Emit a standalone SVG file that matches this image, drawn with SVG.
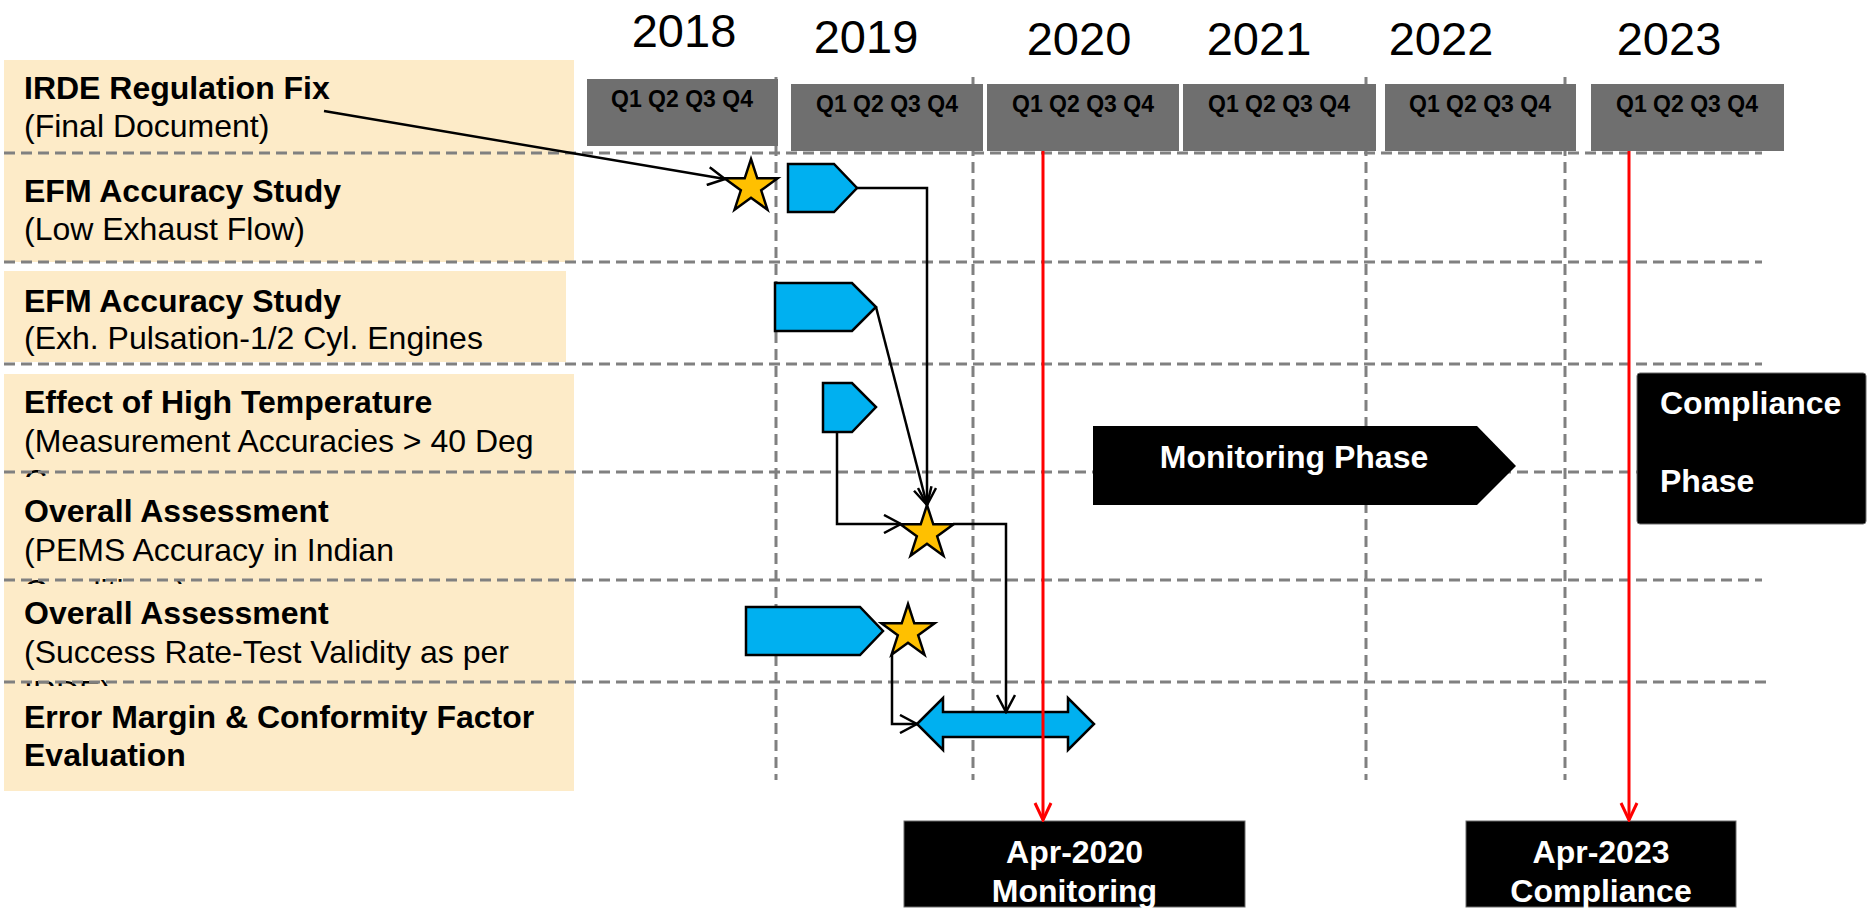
<svg xmlns="http://www.w3.org/2000/svg" width="1874" height="916" viewBox="0 0 1874 916">
<style>
text{font-family:"Liberation Sans",Arial,sans-serif;}
.lbl{fill:#fdebc8;}
.b{font-weight:bold;font-size:32px;fill:#000;}
.r{font-size:32px;fill:#000;}
.yr{font-size:47px;fill:#000;text-anchor:middle;}
.qb{fill:#6f6f6f;}
.qt{font-weight:bold;font-size:23px;fill:#000;text-anchor:middle;}
.grid{stroke:#808080;stroke-width:3;stroke-dasharray:11 6;fill:none;}
.task{fill:#00b0f0;stroke:#000;stroke-width:2.5;stroke-linejoin:miter;}
.ms{fill:#ffc000;stroke:#000;stroke-width:2.5;}
.conn{stroke:#000;stroke-width:2.5;fill:none;marker-end:url(#ah);}
.red{stroke:#ff0000;stroke-width:3;fill:none;marker-end:url(#rh);}
.blk{fill:#000;stroke:#6a6a6a;stroke-width:1;}
.wt{font-weight:bold;font-size:32px;fill:#fff;}
</style>
<defs>
<marker id="ah" markerUnits="userSpaceOnUse" viewBox="0 0 20 20" markerWidth="20" markerHeight="20" refX="18" refY="10" orient="auto">
<path d="M1,1 L18,10 L1,19" fill="none" stroke="#000" stroke-width="2.5"/>
</marker>
<marker id="rh" markerUnits="userSpaceOnUse" viewBox="0 0 20 20" markerWidth="20" markerHeight="20" refX="18" refY="10" orient="auto">
<path d="M1,2 L18,10 L1,18" fill="none" stroke="#ff0000" stroke-width="3"/>
</marker>
<path id="star" d="M0,-28 L6.29,-8.66 L26.63,-8.65 L10.18,3.31 L16.46,22.65 L0,10.7 L-16.46,22.65 L-10.18,3.31 L-26.63,-8.65 L-6.29,-8.66 Z"/>
</defs>

<!-- labels -->
<g id="label-irde">
<rect class="lbl" x="4" y="60" width="570" height="202"/>
<text class="b" x="24" y="99">IRDE Regulation Fix</text>
<text class="r" x="24" y="137">(Final Document)</text>
</g>
<g id="label-efm-low">
<text class="b" x="24" y="202">EFM Accuracy Study</text>
<text class="r" x="24" y="240">(Low Exhaust Flow)</text>
</g>
<g id="label-efm-pulsation">
<rect class="lbl" x="4" y="271" width="562" height="91"/>
<text class="b" x="24" y="312">EFM Accuracy Study</text>
<text class="r" x="24" y="349">(Exh. Pulsation-1/2 Cyl. Engines</text>
</g>
<g id="label-high-temp">
<rect class="lbl" x="4" y="374" width="570" height="104"/>
<text class="b" x="24" y="413">Effect of High Temperature</text>
<text class="r" x="24" y="452">(Measurement Accuracies &gt; 40 Deg</text>
<text class="r" x="24" y="492">C</text>
</g>
<g id="label-overall-pems">
<rect class="lbl" x="4" y="477" width="570" height="108"/>
<text class="b" x="24" y="522">Overall Assessment</text>
<text class="r" x="24" y="561">(PEMS Accuracy in Indian</text>
<text class="r" x="24" y="602">Conditions)</text>
</g>
<g id="label-overall-success">
<rect class="lbl" x="4" y="584" width="570" height="104"/>
<text class="b" x="24" y="624">Overall Assessment</text>
<text class="r" x="24" y="663">(Success Rate-Test Validity as per</text>
<text class="r" x="24" y="703">IRDE)</text>
</g>
<g id="label-error-margin">
<rect class="lbl" x="4" y="686" width="570" height="105"/>
<text class="b" x="24" y="728">Error Margin &amp; Conformity Factor</text>
<text class="b" x="24" y="766">Evaluation</text>
</g>

<!-- grid -->
<g id="grid">
<line class="grid" x1="4" y1="153" x2="1762" y2="153"/>
<line class="grid" x1="4" y1="262" x2="1762" y2="262"/>
<line class="grid" x1="4" y1="364" x2="1762" y2="364"/>
<line class="grid" x1="4" y1="472" x2="1762" y2="472"/>
<line class="grid" x1="4" y1="580" x2="1762" y2="580"/>
<line class="grid" x1="4" y1="682" x2="1768" y2="682"/>
<line class="grid" x1="776" y1="77" x2="776" y2="780"/>
<line class="grid" x1="973" y1="77" x2="973" y2="780"/>
<line class="grid" x1="1366" y1="77" x2="1366" y2="780"/>
<line class="grid" x1="1565" y1="77" x2="1565" y2="780"/>
</g>

<!-- timeline header -->
<g id="years">
<text class="yr" x="684" y="47">2018</text>
<text class="yr" x="866" y="53">2019</text>
<text class="yr" x="1079" y="55">2020</text>
<text class="yr" x="1259" y="55">2021</text>
<text class="yr" x="1441" y="55">2022</text>
<text class="yr" x="1669" y="55">2023</text>
</g>
<g id="q-2018"><rect class="qb" x="587" y="79" width="191" height="67"/><text class="qt" x="682" y="107">Q1 Q2 Q3 Q4</text></g>
<g id="q-2019"><rect class="qb" x="791" y="84" width="192" height="67"/><text class="qt" x="887" y="112">Q1 Q2 Q3 Q4</text></g>
<g id="q-2020"><rect class="qb" x="987" y="84" width="192" height="67"/><text class="qt" x="1083" y="112">Q1 Q2 Q3 Q4</text></g>
<g id="q-2021"><rect class="qb" x="1183" y="84" width="193" height="67"/><text class="qt" x="1279" y="112">Q1 Q2 Q3 Q4</text></g>
<g id="q-2022"><rect class="qb" x="1385" y="84" width="191" height="67"/><text class="qt" x="1480" y="112">Q1 Q2 Q3 Q4</text></g>
<g id="q-2023"><rect class="qb" x="1591" y="84" width="193" height="67"/><text class="qt" x="1687" y="112">Q1 Q2 Q3 Q4</text></g>

<!-- tasks -->
<g id="task-efm-low"><path class="task" d="M788,164 L834,164 L857,188 L834,212 L788,212 Z"/></g>
<g id="task-efm-pulsation"><path class="task" d="M775,283 L852,283 L876,307 L852,331 L775,331 Z"/></g>
<g id="task-high-temp"><path class="task" d="M823,383 L852,383 L876,407 L852,432 L823,432 Z"/></g>
<g id="task-success-rate"><path class="task" d="M746,607 L860,607 L883,631 L860,655 L746,655 Z"/></g>
<g id="task-error-margin"><path class="task" d="M917,724 L943,698 L943,712 L1068,712 L1068,698 L1094,724 L1068,750 L1068,737 L943,737 L943,750 Z"/></g>

<!-- milestones -->
<g id="milestone-irde"><use href="#star" class="ms" transform="translate(751,187)"/></g>
<g id="milestone-pems"><use href="#star" class="ms" transform="translate(927,533)"/></g>
<g id="milestone-success"><use href="#star" class="ms" transform="translate(908,632)"/></g>

<!-- phases -->
<g id="monitoring-phase">
<path fill="#000" d="M1093,426 L1477,426 L1516,466 L1477,505 L1093,505 Z"/>
<text class="wt" x="1294" y="468" text-anchor="middle">Monitoring Phase</text>
</g>
<g id="compliance-phase">
<rect class="blk" x="1637" y="373" width="229" height="151" rx="3"/>
<text class="wt" x="1660" y="414">Compliance</text>
<text class="wt" x="1660" y="492">Phase</text>
</g>
<g id="apr-2020">
<rect class="blk" x="904" y="821" width="341" height="86"/>
<text class="wt" x="1074.5" y="863" text-anchor="middle">Apr-2020</text>
<text class="wt" x="1074.5" y="902" text-anchor="middle">Monitoring</text>
</g>
<g id="apr-2023">
<rect class="blk" x="1466" y="821" width="270" height="86"/>
<text class="wt" x="1601" y="863" text-anchor="middle">Apr-2023</text>
<text class="wt" x="1601" y="902" text-anchor="middle">Compliance</text>
</g>

<!-- connectors -->
<g id="connectors">
<path class="conn" d="M324,111 L725,179"/>
<path class="conn" d="M857,188 L927,188 L927,505"/>
<path class="conn" d="M876,307 L927,505"/>
<path class="conn" d="M837,432 L837,524 L901,524"/>
<path class="conn" d="M953,524 L1006,524 L1006,712"/>
<path class="conn" d="M892,655 L892,724 L917,724"/>
<path class="red" d="M1043,151 L1043,820"/>
<path class="red" d="M1629,151 L1629,820"/>
</g>
</svg>
